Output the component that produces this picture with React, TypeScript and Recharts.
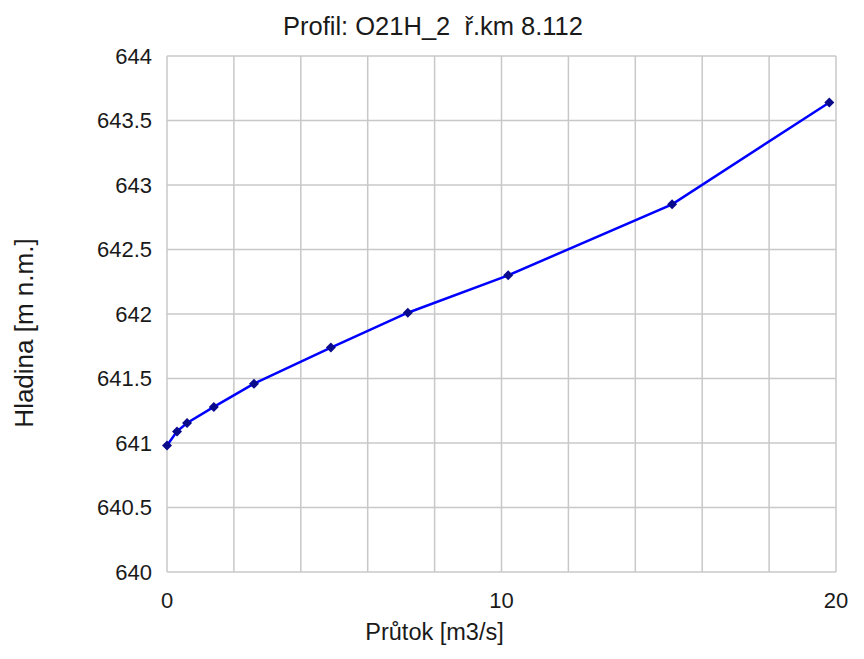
import { LineChart, Line, XAxis, YAxis, CartesianGrid, Label } from 'recharts';

const prutok = [0, 0.3, 0.6, 1.4, 2.6, 4.9, 7.2, 10.2, 15.1, 19.8];
const hladina = [640.98, 641.09, 641.155, 641.28, 641.46, 641.74, 642.01, 642.3, 642.85, 643.64];
const xTicks = [0, 2, 4, 6, 8, 10, 12, 14, 16, 18, 20];
const xLabelled = [0, 10, 20];
const yTicks = [640, 640.5, 641, 641.5, 642, 642.5, 643, 643.5, 644];

const data = prutok.map((q, i) => ({ q, h: hladina[i] }));

const FONT = '"Liberation Sans", Arial, sans-serif';
const TEXT = '#1a1a1a';

// small diamond marker like the original
const Diamond = (props: any) => {
    const { cx, cy, index } = props;
    if (cx == null || cy == null) return null;
    const r = 5;
    return (
        <path
            key={index}
            d={`M${cx},${cy - r} L${cx + r},${cy} L${cx},${cy + r} L${cx - r},${cy} Z`}
            fill="#0a0a8c"
        />
    );
};

export default function App() {
    return (
        <div style={{ position: 'absolute', left: 0, top: 0, width: 864, height: 659, background: '#fff', fontFamily: FONT }}>
            <div style={{ position: 'absolute', left: 0, width: 866, top: 12, textAlign: 'center', fontSize: 25.5, color: TEXT, whiteSpace: 'pre' }}>
                {'Profil: O21H_2  ř.km 8.112'}
            </div>
            <LineChart width={864} height={659} data={data} margin={{ top: 56, right: 28, left: 0, bottom: 0 }}>
                <CartesianGrid stroke="#c8c8c8" strokeWidth={1.5} horizontalValues={yTicks} verticalValues={xTicks} />
                <XAxis
                    dataKey="q"
                    type="number"
                    domain={[0, 20]}
                    ticks={xTicks}
                    interval={0}
                    height={87}
                    axisLine={false}
                    tickLine={false}
                    tickMargin={14}
                    tickFormatter={(v: number) => (xLabelled.includes(v) ? String(v) : '')}
                    tick={{ fontSize: 22, fill: TEXT, fontFamily: FONT }}
                >
                    <Label value="Průtok [m3/s]" position="center" dx={-67} dy={16} style={{ fontSize: 23.5, fill: TEXT, fontFamily: FONT }} />
                </XAxis>
                <YAxis
                    type="number"
                    domain={[640, 644]}
                    ticks={yTicks}
                    interval={0}
                    width={167}
                    axisLine={false}
                    tickLine={false}
                    tickMargin={9}
                    tickFormatter={(v: number) => String(v)}
                    tick={{ fontSize: 22, fill: TEXT, fontFamily: FONT }}
                >
                    <Label value="Hladina [m n.m.]" position="center" angle={-90} dx={-59.5} dy={19} style={{ fontSize: 26, fill: TEXT, fontFamily: FONT, textAnchor: 'middle' }} />
                </YAxis>
                <Line
                    type="linear"
                    dataKey="h"
                    stroke="#0000ff"
                    strokeWidth={2.5}
                    dot={Diamond}
                    activeDot={false}
                    isAnimationActive={false}
                />
            </LineChart>
        </div>
    );
}
